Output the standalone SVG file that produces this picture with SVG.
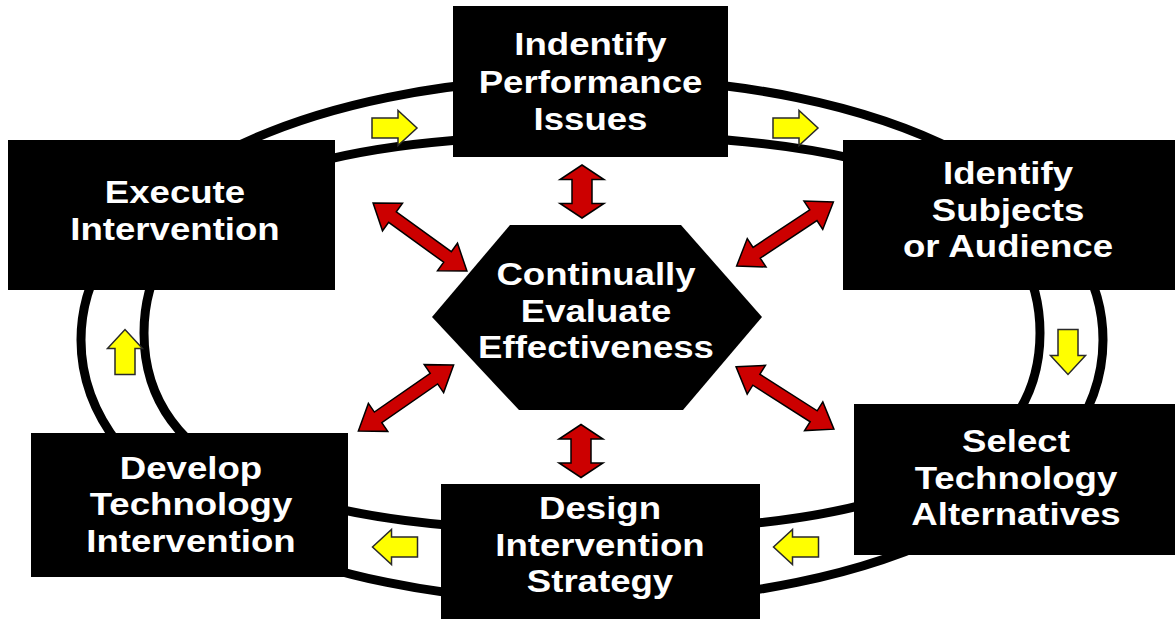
<svg xmlns="http://www.w3.org/2000/svg" xmlns:xlink="http://www.w3.org/1999/xlink" width="1175" height="619" viewBox="0 0 1175 619">
  <style>
    .box { fill: #000; }
    .lbl { font-family: "Liberation Sans", Arial, sans-serif; font-weight: bold; font-size: 30.5px; fill: #fff; text-anchor: middle; }
    .ring { fill: none; stroke: #000; stroke-width: 9; }
    .flow { fill: #ffff00; stroke: #2a2a2a; stroke-width: 1.5; stroke-linejoin: miter; }
    .eval { fill: #cc0000; stroke: #000; stroke-width: 1.5; stroke-linejoin: miter; }
  </style>
  <defs>
    <!-- yellow block arrow pointing right, centred on origin -->
    <path id="flowArrow" d="M-22.5,-10 H3.5 V-17.5 L22.5,0 L3.5,17.5 V10 H-22.5 Z"/>
    <!-- red double-headed arrow, long (diagonal) -->
    <path id="evalDiag" d="M-58,0 L-34,-17 L-34,-6.5 L34,-6.5 L34,-17 L58,0 L34,17 L34,6.5 L-34,6.5 L-34,17 Z"/>
    <!-- red double-headed arrow, short and wide (vertical) -->
    <path id="evalVert" d="M0,-26.5 L22,-12 L10,-12 L10,12 L22,12 L0,26.5 L-22,12 L-10,12 L-10,-12 L-22,-12 Z"/>
  </defs>

  <rect width="1175" height="619" fill="#fff"/>

  <g id="connectors">
    <!-- double track of the cycle -->
    <path class="ring" d="M81,340 C81,188 295.6,78 592,78 C888.4,78 1103,188 1103,340 C1103,492 888.4,602 592,602 C295.6,602 81,492 81,340 Z"/>
    <path class="ring" d="M144,333 C144,198.4 287.4,135 592,135 C896.6,135 1040,198.4 1040,333 C1040,467.6 896.6,531 592,531 C287.4,531 144,467.6 144,333 Z"/>

    <!-- direction of the cycle -->
    <use xlink:href="#flowArrow" class="flow" transform="translate(394.5,128)"/>
    <use xlink:href="#flowArrow" class="flow" transform="translate(795.5,128)"/>
    <use xlink:href="#flowArrow" class="flow" transform="translate(1068,352) rotate(90)"/>
    <use xlink:href="#flowArrow" class="flow" transform="translate(796,547) rotate(180)"/>
    <use xlink:href="#flowArrow" class="flow" transform="translate(395,547) rotate(180)"/>
    <use xlink:href="#flowArrow" class="flow" transform="translate(125,352) rotate(-90)"/>

    <!-- links to the evaluation hub -->
    <use xlink:href="#evalVert" class="eval" transform="translate(582,191.5)"/>
    <use xlink:href="#evalVert" class="eval" transform="translate(581,451)"/>
    <use xlink:href="#evalDiag" class="eval" transform="translate(420,237) rotate(36)"/>
    <use xlink:href="#evalDiag" class="eval" transform="translate(785,234) rotate(-33.5)"/>
    <use xlink:href="#evalDiag" class="eval" transform="translate(406,398) rotate(-34.8)"/>
    <use xlink:href="#evalDiag" class="eval" transform="translate(785,398) rotate(32.5)"/>
  </g>

  <g id="identify-performance">
    <rect class="box" x="453" y="6" width="275" height="151"/>
    <g transform="translate(590.5,0) scale(1.2,1)">
      <text class="lbl" x="0" y="55">Indentify</text>
      <text class="lbl" x="0" y="93">Performance</text>
      <text class="lbl" x="0" y="130">Issues</text>
    </g>
  </g>

  <g id="identify-subjects">
    <rect class="box" x="843" y="140" width="332" height="150"/>
    <g transform="translate(1008,0) scale(1.2,1)">
      <text class="lbl" x="0" y="184">Identify</text>
      <text class="lbl" x="0" y="221">Subjects</text>
      <text class="lbl" x="0" y="257">or Audience</text>
    </g>
  </g>

  <g id="select-technology">
    <rect class="box" x="854" y="404" width="321" height="151"/>
    <g transform="translate(1016,0) scale(1.2,1)">
      <text class="lbl" x="0" y="452">Select</text>
      <text class="lbl" x="0" y="489">Technology</text>
      <text class="lbl" x="0" y="525">Alternatives</text>
    </g>
  </g>

  <g id="design-strategy">
    <rect class="box" x="441" y="484" width="319" height="135"/>
    <g transform="translate(600,0) scale(1.2,1)">
      <text class="lbl" x="0" y="519">Design</text>
      <text class="lbl" x="0" y="556">Intervention</text>
      <text class="lbl" x="0" y="592">Strategy</text>
    </g>
  </g>

  <g id="develop-intervention">
    <rect class="box" x="31" y="433" width="317" height="144"/>
    <g transform="translate(191,0) scale(1.2,1)">
      <text class="lbl" x="0" y="479">Develop</text>
      <text class="lbl" x="0" y="515">Technology</text>
      <text class="lbl" x="0" y="552">Intervention</text>
    </g>
  </g>

  <g id="execute-intervention">
    <rect class="box" x="8" y="140" width="327" height="150"/>
    <g transform="translate(175,0) scale(1.2,1)">
      <text class="lbl" x="0" y="203">Execute</text>
      <text class="lbl" x="0" y="240">Intervention</text>
    </g>
  </g>

  <g id="evaluate-effectiveness">
    <polygon class="box" points="510,225 681,225 762,317 683,410 519,410 432,317"/>
    <g transform="translate(596,0) scale(1.2,1)">
      <text class="lbl" x="0" y="285">Continually</text>
      <text class="lbl" x="0" y="322">Evaluate</text>
      <text class="lbl" x="0" y="358">Effectiveness</text>
    </g>
  </g>
</svg>
